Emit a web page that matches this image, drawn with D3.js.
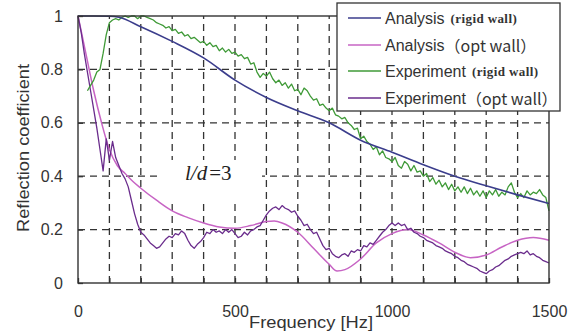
<!DOCTYPE html>
<html><head><meta charset="utf-8">
<script src="https://cdn.jsdelivr.net/npm/d3@7"></script>
<style>
html,body{margin:0;padding:0;background:#fff;}
svg{display:block;}
</style></head><body>
<svg id="chart" width="573" height="335" font-family="Liberation Sans, Arial, sans-serif"></svg>
<script>
// ---------- data ----------
const xTicks = [0, 500, 1000, 1500];
const yTicks = [0, 0.2, 0.4, 0.6, 0.8, 1];
const seriesNames = ["Analysis", "Analysis", "Experiment", "Experiment"];
const seriesTags = ["(rigid wall)", "（opt wall）", "(rigid wall)", "（opt wall）"];
const seriesColors = ["#3b3d8c", "#c764c4", "#3f9a37", "#6a2c8c"];

// Analysis (rigid wall) [Hz, coefficient]
const analysisRigid = [[0,1],[50,1],[100,0.999],[130,0.995],[200,0.96],[300,0.905],[400,0.843],[500,0.76],[600,0.695],[700,0.645],[800,0.6],[900,0.535],[1000,0.49],[1100,0.443],[1200,0.4],[1300,0.364],[1400,0.33],[1500,0.298]];
// Analysis (opt wall)
const analysisOpt = [[0,1],[25,0.86],[50,0.72],[75,0.6],[100,0.5],[125,0.44],[150,0.41],[175,0.38],[200,0.355],[250,0.31],[300,0.27],[350,0.245],[400,0.225],[450,0.21],[500,0.205],[550,0.215],[600,0.23],[625,0.232],[650,0.225],[700,0.19],[750,0.13],[800,0.07],[825,0.045],[850,0.05],[900,0.09],[950,0.15],[1000,0.185],[1050,0.2],[1100,0.18],[1150,0.15],[1200,0.115],[1250,0.095],[1300,0.105],[1350,0.135],[1400,0.16],[1450,0.17],[1500,0.16]];

// Experiment (rigid wall): values every 10 Hz from 30 Hz
const expRigidStart = 30;
const expRigid = [0.72,0.74,0.76,0.79,0.80,0.86,0.93,0.975,0.985,0.99,0.985,0.995,1.0,0.995,1.0,1.0,0.99,1.0,1.0,0.995,
0.99,0.985,0.975,0.97,0.965,0.955,0.96,0.945,0.95,0.935,0.94,0.925,0.93,0.915,0.92,0.91,0.9,0.905,0.89,0.9,
0.885,0.89,0.87,0.88,0.865,0.875,0.86,0.865,0.85,0.855,0.84,0.845,0.82,0.825,0.79,0.77,0.785,0.775,0.79,0.765,
0.75,0.76,0.74,0.75,0.73,0.745,0.72,0.725,0.705,0.73,0.72,0.7,0.685,0.69,0.665,0.67,0.655,0.645,0.655,0.63,
0.625,0.615,0.62,0.6,0.59,0.575,0.58,0.54,0.55,0.53,0.52,0.5,0.51,0.48,0.495,0.47,0.465,0.455,0.47,0.44,
0.43,0.455,0.445,0.42,0.44,0.415,0.42,0.4,0.41,0.38,0.395,0.37,0.385,0.36,0.375,0.35,0.37,0.345,0.36,0.34,
0.36,0.335,0.355,0.33,0.345,0.325,0.345,0.32,0.345,0.33,0.35,0.325,0.34,0.33,0.36,0.375,0.34,0.32,0.335,0.32,
0.345,0.33,0.34,0.335,0.35,0.33,0.32,0.27];
// Experiment (opt wall): values every 10 Hz from 0 Hz
const expOptStart = 0;
const expOpt = [1.0,0.94,0.86,0.79,0.72,0.65,0.58,0.5,0.42,0.54,0.46,0.53,0.47,0.44,0.41,0.39,0.36,0.31,0.26,0.22,
0.19,0.18,0.165,0.15,0.14,0.13,0.135,0.15,0.165,0.175,0.17,0.185,0.18,0.195,0.185,0.16,0.14,0.13,0.145,0.155,
0.17,0.19,0.185,0.2,0.19,0.195,0.185,0.2,0.19,0.2,0.185,0.17,0.175,0.19,0.18,0.195,0.2,0.21,0.215,0.235,
0.255,0.27,0.28,0.285,0.275,0.29,0.28,0.275,0.265,0.27,0.25,0.235,0.215,0.22,0.2,0.185,0.19,0.165,0.14,0.125,
0.13,0.11,0.1,0.095,0.105,0.11,0.1,0.12,0.115,0.125,0.12,0.14,0.135,0.15,0.145,0.16,0.175,0.19,0.2,0.215,
0.225,0.215,0.225,0.215,0.22,0.2,0.205,0.19,0.185,0.175,0.17,0.16,0.155,0.15,0.14,0.135,0.13,0.12,0.115,0.11,
0.1,0.095,0.085,0.08,0.07,0.065,0.06,0.055,0.045,0.04,0.035,0.045,0.05,0.06,0.065,0.075,0.085,0.09,0.1,0.105,
0.11,0.115,0.11,0.12,0.105,0.11,0.1,0.095,0.085,0.08,0.075];

// ---------- chart ----------
const svg = d3.select("#chart");
const x = d3.scaleLinear().domain([0, 1500]).range([78, 549]);
const y = d3.scaleLinear().domain([0, 1]).range([283, 16]);
const grid = "#333";
const txt = "#333";

// gridlines
const gGrid = svg.append("g").attr("stroke", grid).attr("stroke-width", 1.3).attr("stroke-dasharray", "7,5");
gGrid.selectAll("line.v").data(d3.range(100, 1500, 100)).join("line")
  .attr("x1", d => x(d)).attr("x2", d => x(d)).attr("y1", y(0)).attr("y2", y(1));
gGrid.selectAll("line.h").data(yTicks.filter(d => d > 0 && d < 1)).join("line")
  .attr("x1", x(0)).attr("x2", x(1500)).attr("y1", d => y(d)).attr("y2", d => y(d));

// white text box for l/d label
svg.append("rect").attr("x", 158).attr("y", 160).attr("width", 104).attr("height", 42).attr("fill", "#fff");

// curves
const smooth = d3.line().x(d => x(d[0])).y(d => y(d[1])).curve(d3.curveMonotoneX);
const raw = d3.line().x(d => x(d[0])).y(d => y(d[1]));
const expRigidPts = expRigid.map((v, i) => [expRigidStart + i * 10, v]);
const expOptPts = expOpt.map((v, i) => [expOptStart + i * 10, v]);

svg.append("path").attr("d", smooth(analysisOpt)).attr("fill", "none").attr("stroke", seriesColors[1]).attr("stroke-width", 1.5);
svg.append("path").attr("d", raw(expOptPts)).attr("fill", "none").attr("stroke", seriesColors[3]).attr("stroke-width", 1.3).attr("stroke-linejoin", "round");
svg.append("path").attr("d", raw(expRigidPts)).attr("fill", "none").attr("stroke", seriesColors[2]).attr("stroke-width", 1.3).attr("stroke-linejoin", "round");
svg.append("path").attr("d", smooth(analysisRigid)).attr("fill", "none").attr("stroke", seriesColors[0]).attr("stroke-width", 1.6);

// frame
svg.append("rect").attr("x", x(0)).attr("y", y(1)).attr("width", x(1500) - x(0)).attr("height", y(0) - y(1))
  .attr("fill", "none").attr("stroke", grid).attr("stroke-width", 1.4);

// axes
const xAxis = d3.axisBottom(x).tickValues(d3.range(0, 1501, 100)).tickSize(-5).tickPadding(23)
  .tickFormat(d => xTicks.includes(d) ? d : "");
const gx = svg.append("g").attr("transform", `translate(0,${y(0)})`).call(xAxis);
gx.select(".domain").remove();
gx.selectAll(".tick line").attr("stroke", grid).attr("stroke-width", 1.3);
gx.selectAll(".tick text").attr("font-size", 16).attr("fill", txt).attr("font-family", "Liberation Sans, Arial, sans-serif");

const yAxis = d3.axisLeft(y).tickValues(yTicks).tickSize(-5).tickPadding(15).tickFormat(d => d === 0 || d === 1 ? d3.format("d")(d) : d3.format(".1f")(d));
const gy = svg.append("g").attr("transform", `translate(${x(0)},0)`).call(yAxis);
gy.select(".domain").remove();
gy.selectAll(".tick line").attr("stroke", grid).attr("stroke-width", 1.3);
gy.selectAll(".tick text").attr("font-size", 16).attr("fill", txt).attr("font-family", "Liberation Sans, Arial, sans-serif");

// axis titles
svg.append("text").attr("transform", "translate(25,148) rotate(-90)").attr("text-anchor", "middle")
  .attr("dominant-baseline", "middle").attr("font-size", 16).attr("fill", txt).attr("textLength", 168).attr("lengthAdjust", "spacingAndGlyphs")
  .text("Reflection coefficient");
svg.append("text").attr("x", 311).attr("y", 328).attr("text-anchor", "middle").attr("font-size", 16).attr("fill", txt)
  .attr("textLength", 124).attr("lengthAdjust", "spacingAndGlyphs").text("Frequency [Hz]");

// l/d = 3 annotation
const ann = svg.append("text").attr("x", 185).attr("y", 180).attr("font-family", "Liberation Serif, Times New Roman, serif").attr("font-size", 21).attr("fill", "#222");
ann.append("tspan").attr("font-style", "italic").text("l/d");
ann.append("tspan").attr("dx", 2).text("=3");

// legend
const lg = svg.append("g");
lg.append("rect").attr("x", 337).attr("y", 3).attr("width", 223).attr("height", 108)
  .attr("fill", "#fff").attr("stroke", grid).attr("stroke-width", 1.3);
const rowsY = [18, 45, 71, 98];
seriesNames.forEach((name, i) => {
  lg.append("line").attr("x1", 348).attr("x2", 381).attr("y1", rowsY[i]).attr("y2", rowsY[i])
    .attr("stroke", seriesColors[i]).attr("stroke-width", 1.5);
  const t = lg.append("text").attr("x", 385).attr("y", rowsY[i]).attr("dominant-baseline", "central").attr("font-size", 16).attr("fill", txt);
  t.append("tspan").text(name);
  if (seriesTags[i].startsWith("(")) {
    t.append("tspan").attr("dx", 6).attr("font-family", "Liberation Serif, Times New Roman, serif")
      .attr("font-size", 13).attr("font-weight", "bold").attr("letter-spacing", 0.4).text(seriesTags[i]);
  } else {
    t.append("tspan").attr("font-family", "Noto Sans CJK JP, Liberation Sans, sans-serif").attr("font-size", 16).text(seriesTags[i]);
  }
});
</script>
</body></html>
